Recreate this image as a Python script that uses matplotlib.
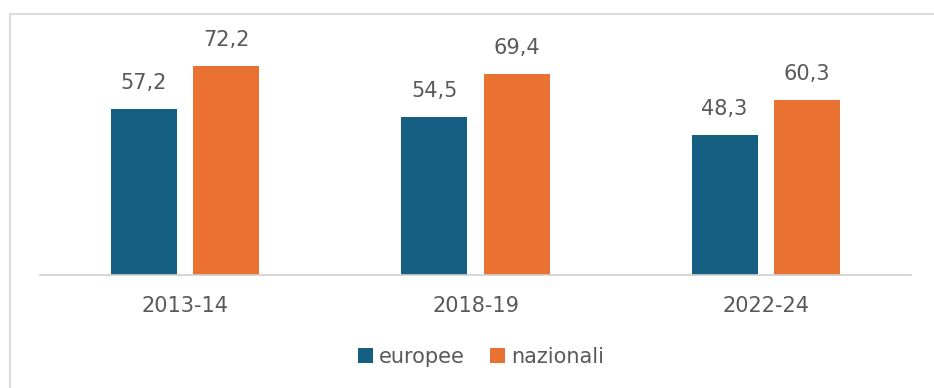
import matplotlib.pyplot as plt
from matplotlib.lines import Line2D
import numpy as np

periods = ["2013-14", "2018-19", "2022-24"]
europee = [57.2, 54.5, 48.3]
nazionali = [72.2, 69.4, 60.3]

BLUE = "#156082"
ORANGE = "#E97132"
TEXT = "#595959"

plt.rcParams["font.family"] = ["DejaVu Sans"]

fig = plt.figure(figsize=(9.34, 3.88), dpi=100)
fig.patch.set_facecolor("white")

# outer light border, only top and left visible in the screenshot
bx, by = 10 / 934, 1 - 14 / 388
for xs, ys in (([bx, 1.0], [by, by]), ([bx, bx], [0.0, by])):
    fig.lines.append(Line2D(xs, ys, transform=fig.transFigure,
                            color="#dcdcdc", linewidth=1.5))

ax = fig.add_axes([40 / 934, 113 / 388, 871 / 934, 232 / 388])

x = np.arange(len(periods))
w = 0.227
off = 0.142
b1 = ax.bar(x - off, europee, w, color=BLUE, label="europee")
b2 = ax.bar(x + off, nazionali, w, color=ORANGE, label="nazionali")

for bars, vals in ((b1, europee), (b2, nazionali)):
    for rect, v in zip(bars, vals):
        ax.annotate(
            f"{v:.1f}".replace(".", ","),
            (rect.get_x() + rect.get_width() / 2, v),
            xytext=(0, 11.5), textcoords="offset points",
            ha="center", va="bottom", fontsize=15, color=TEXT,
        )

ax.set_xlim(-0.5, 2.5)
ax.set_ylim(0, 80)
ax.set_xticks(x)
ax.set_xticklabels(periods, fontsize=15, color=TEXT)
ax.tick_params(axis="x", length=0, pad=15)
ax.set_yticks([])
for s in ("top", "right", "left"):
    ax.spines[s].set_visible(False)
ax.spines["bottom"].set_color("#d0d0d0")
ax.spines["bottom"].set_linewidth(1.2)

fig.legend(
    handles=[b1, b2], labels=["europee", "nazionali"],
    loc="center", bbox_to_anchor=(0.515, 1 - 357 / 388), ncol=2,
    frameon=False, fontsize=15, labelcolor=TEXT,
    handlelength=0.7, handleheight=0.7, handletextpad=0.3, columnspacing=1.2,
)

plt.savefig("out.png", dpi=100, facecolor=fig.get_facecolor())
plt.close()
